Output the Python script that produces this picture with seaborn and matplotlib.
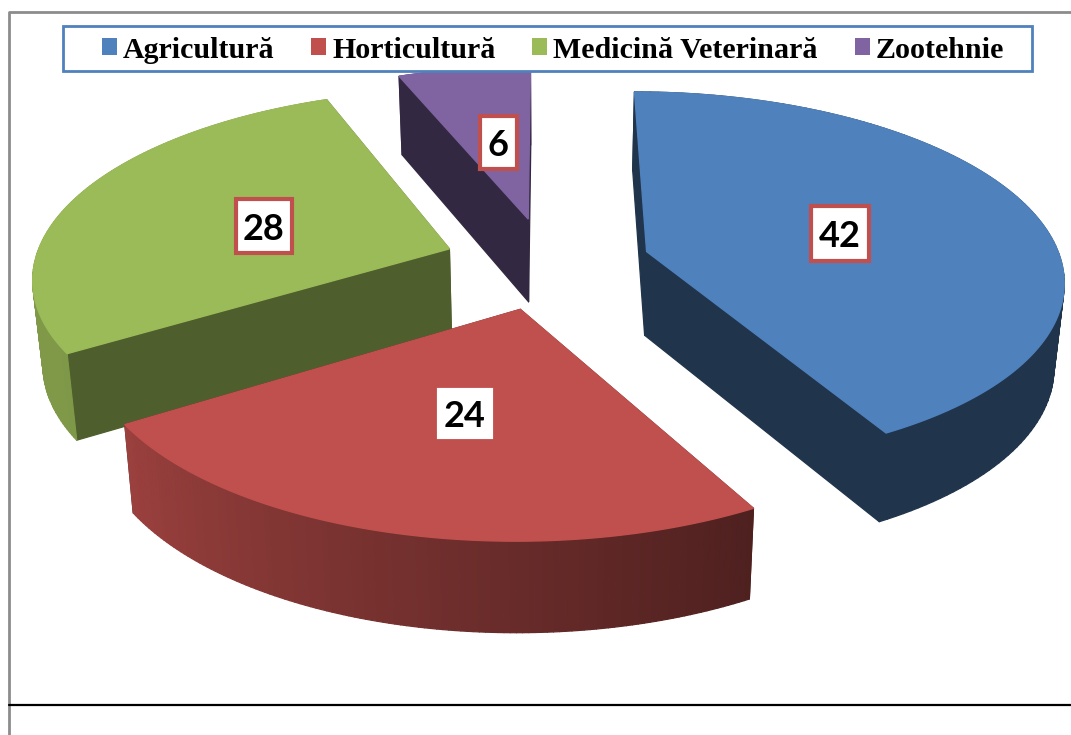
import numpy as np
import matplotlib
matplotlib.use("Agg")
import matplotlib.pyplot as plt
from matplotlib.patches import Polygon, Rectangle
import seaborn as sns

# ---- data ----
categories = ["Agricultură", "Horticultură", "Medicină Veterinară", "Zootehnie"]
values = [42, 24, 28, 6]
slice_colors = ["#4F81BD", "#C0504D", "#9BBB59", "#8064A2"]

# ---- projection and style parameters ----
XC, YC = 547, 263        # vanishing centre of the pie
RX, RY = 415, 185        # radius on screen, horizontal and vertical
PERSP = 0.14             # strength of perspective
EXPLODE = 0.25           # explosion of each slice, in radii
DEPTH = 84               # thickness of the pie
BOTTOM_SHRINK = 0.98     # bottom face converges towards the centre
EDGE_SHADE = [0.40, 0.40, 0.50, 0.40]
LABEL_BOXES = [(840, 233, 58, 55, True), (465, 413, 52, 47, False),
               (264, 226, 56, 54, True), (498, 142, 37, 53, True)]

sns.set_theme(style="white")
palette = sns.color_palette(slice_colors)

fig = plt.figure(figsize=(10.71, 7.35), dpi=100, facecolor="white")
ax = fig.add_axes([0, 0, 1, 1])
ax.set_xlim(0, 1071)
ax.set_ylim(735, 0)
ax.axis("off")


def project(u, v, bottom=False):
    """Pie plane (u right, v towards the viewer) to the picture."""
    u, v = np.asarray(u, float), np.asarray(v, float)
    p = 1 / (1 - PERSP * v)
    x = XC + RX * u * p
    y = YC + RY * v * p
    if bottom:
        x = XC + (x - XC) * BOTTOM_SHRINK
        y = y + DEPTH * p ** 0.45
    return np.column_stack([x, y])


def wall_shade(deg):
    return np.interp(deg, [0, 150, 240, 360], [0.40, 0.40, 0.82, 0.82])


def scaled(color, k):
    return tuple(min(1, c * k) for c in color)


edges = np.concatenate([[0], np.cumsum(values)]) / np.sum(values) * 360
slices = []
for i, (a0, a1) in enumerate(zip(edges[:-1], edges[1:])):
    mid = np.radians((a0 + a1) / 2)
    slices.append((i, a0, a1, EXPLODE * np.sin(mid), -EXPLODE * np.cos(mid)))

# back to front: the slice whose explosion points furthest back goes first
for i, a0, a1, eu, ev in sorted(slices, key=lambda s: s[4]):
    col = palette[i]
    th = np.radians(np.linspace(a0, a1, 121))
    u = eu + np.sin(th)
    v = ev - np.cos(th)
    top_arc = project(u, v)
    bot_arc = project(u, v, bottom=True)
    apex_t = project([eu], [ev])
    apex_b = project([eu], [ev], bottom=True)

    faces = []
    edge_col = scaled(col, EDGE_SHADE[i])
    for k in (0, -1):
        poly = np.vstack([apex_t, top_arc[k], bot_arc[k], apex_b])
        faces.append(((ev + v[k]) / 2, poly, edge_col))
    for k in range(len(th) - 1):
        poly = np.vstack([top_arc[k], top_arc[k + 1], bot_arc[k + 1], bot_arc[k]])
        deg = (a0 + (a1 - a0) * (k + 0.5) / (len(th) - 1))
        faces.append(((v[k] + v[k + 1]) / 2, poly, scaled(col, wall_shade(deg))))
    for _, poly, c in sorted(faces, key=lambda f: f[0]):
        ax.add_patch(Polygon(poly, closed=True, facecolor=c, edgecolor=c, lw=0.9,
                             joinstyle="round", zorder=2))
    ax.add_patch(Polygon(np.vstack([apex_t, top_arc]), closed=True,
                         facecolor=col, edgecolor=col, lw=1.0, zorder=2))

# outer frame of the picture
ax.plot([9, 9, 1071], [735, 12, 12], color="#8C8C8C", lw=2, zorder=1)
ax.plot([9, 1071], [705, 705], color="black", lw=1.6, zorder=3)

# legend box and legend
ax.add_patch(Rectangle((63, 26), 969, 45, facecolor="white", edgecolor="#4F81BD", lw=2, zorder=4))
handles = [Rectangle((0, 0), 1, 1, facecolor=c, edgecolor="none") for c in palette]
ax.legend(handles, categories, loc="center", bbox_to_anchor=(553, 50),
          bbox_transform=ax.transData, ncol=4, frameon=False, labelcolor="black",
          prop={"family": "Liberation Serif", "weight": "bold", "size": 21.65},
          handlelength=0.5, handleheight=0.5, handletextpad=0.2,
          columnspacing=1.22, borderpad=0, labelspacing=0).set_zorder(6)

# data labels
for val, (cx, cy, w, h, framed) in zip(values, LABEL_BOXES):
    ax.add_patch(Rectangle((cx - w / 2, cy - h / 2), w, h, facecolor="white",
                           edgecolor="#C0504D" if framed else "white",
                           lw=3, zorder=5))
    ax.text(cx, cy, str(val), ha="center", va="center_baseline", color="black",
            family="Lato", weight="bold", fontsize=26, zorder=6)

fig.savefig("out.png", dpi=100, facecolor="white")
